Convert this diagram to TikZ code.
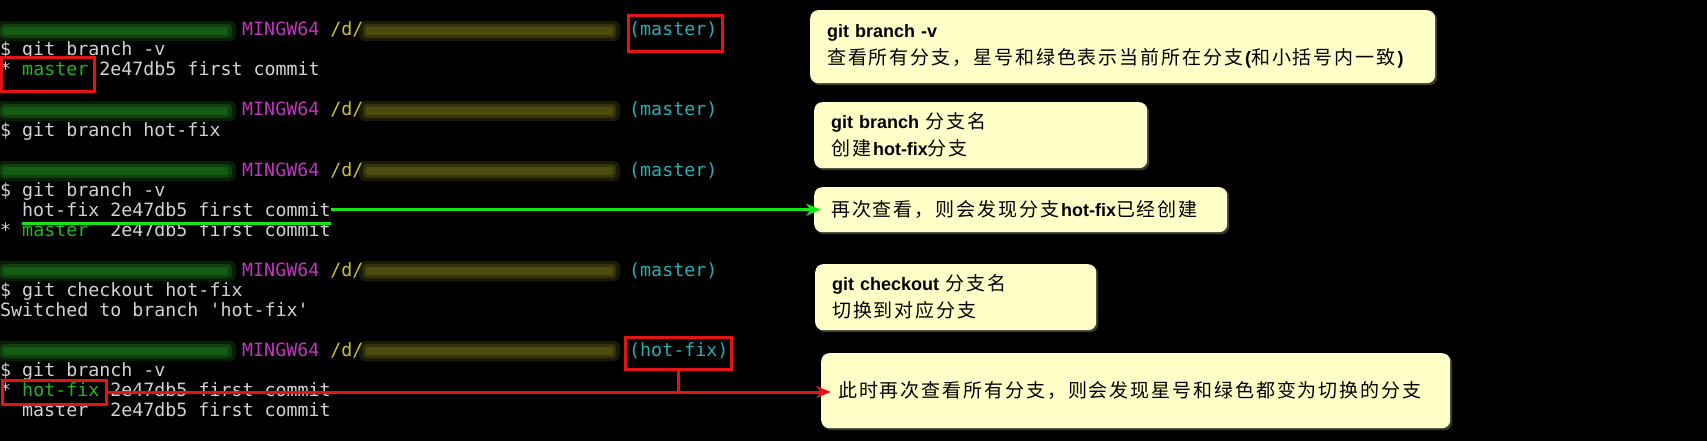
\documentclass[tikz,border=0pt]{standalone}
\usepackage{fontspec}
\setmainfont{Liberation Sans}
\setmonofont{DejaVu Sans Mono}
\newfontfamily\zhfont[LetterSpace=10]{Noto Sans CJK SC}
\usetikzlibrary{arrows.meta,shadows}

\definecolor{termwhite}{RGB}{210,210,210}
\definecolor{termgreen}{RGB}{35,180,35}
\definecolor{mingw}{RGB}{190,55,190}
\definecolor{pathyellow}{RGB}{195,195,50}
\definecolor{branchcyan}{RGB}{40,175,175}
\definecolor{blurgreen}{RGB}{30,125,30}
\definecolor{bluryellow}{RGB}{105,105,25}
\definecolor{markred}{RGB}{228,20,20}
\definecolor{arrowgreen}{RGB}{20,230,20}
\definecolor{noteyellow}{RGB}{255,255,200}

\newcommand\zh[1]{{\zhfont #1}}
\def\promptblur(#1){%
  \fill[blurgreen, opacity=.25, rounded corners=6pt] (-4,#1-10) rectangle (236,#1+10);
  \fill[blurgreen, opacity=.35, rounded corners=4pt] (0,#1-7) rectangle (232,#1+7);
  \fill[blurgreen, opacity=.45, rounded corners=2pt] (3,#1-4) rectangle (228,#1+4);
  \fill[bluryellow, opacity=.25, rounded corners=6pt] (359,#1-10) rectangle (620,#1+10);
  \fill[bluryellow, opacity=.35, rounded corners=4pt] (363,#1-7) rectangle (616,#1+7);
  \fill[bluryellow, opacity=.45, rounded corners=2pt] (366,#1-4) rectangle (613,#1+4);}

\tikzset{
  term/.style={anchor=base west, inner sep=0pt, text=termwhite, font=\ttfamily\fontsize{18.3}{20}\selectfont},
  redbox/.style={draw=markred, line width=3pt, inner sep=0pt},
  note/.style={anchor=north west, fill=noteyellow, rounded corners=8pt, align=left, inner xsep=17pt, inner ysep=3pt,
    text=black, font=\fontsize{18}{27}\selectfont,
    drop shadow={shadow xshift=2pt, shadow yshift=-2pt, fill=noteyellow!30!black, opacity=.8}},
  grnarrow/.style={draw=arrowgreen, line width=3pt, -{Stealth[length=15pt,width=12pt]}, shorten >=-7pt},
  grnline/.style={draw=arrowgreen, line width=3pt},
  redarrow/.style={draw=markred, line width=3pt, -{Stealth[length=15pt,width=12pt]}, shorten >=-10pt},
  redline/.style={draw=markred, line width=3pt}
}

\begin{document}
\begin{tikzpicture}[x=1pt,y=-1pt]
			%%%%% TERMINAL %%%%%
			
			\fill[black] (0,0) rectangle (1707,441);
			\useasboundingbox (0,0) rectangle (1707,441);
			
			% git branch -v
			\promptblur(31)
			\node[term] (p0) at (242,36) {{\color{mingw}MINGW64} {\color{pathyellow}/d/}};
			\node[term, text=branchcyan] (b0) at (629,36) {(master)};
			\node[term] (c1) at (0,56) {\$ git branch -v};
			\node[term] (c2) at (0,76) {* {\color{termgreen}master} 2e47db5 first commit};
			
			% git branch hot-fix
			\promptblur(111)
			\node[term] (p4) at (242,116) {{\color{mingw}MINGW64} {\color{pathyellow}/d/}};
			\node[term, text=branchcyan] (b4) at (629,116) {(master)};
			\node[term] (c5) at (0,136) {\$ git branch hot-fix};
			
			% git branch -v
			\promptblur(171)
			\node[term] (p7) at (242,176) {{\color{mingw}MINGW64} {\color{pathyellow}/d/}};
			\node[term, text=branchcyan] (b7) at (629,176) {(master)};
			\node[term] (c8) at (0,196) {\$ git branch -v};
			\node[term] (hf) at (22,216) {hot-fix 2e47db5 first commit};
			\node[term] (c10) at (0,236) {* {\color{termgreen}master}\ \ 2e47db5 first commit};
			
			% git checkout hot-fix
			\promptblur(271)
			\node[term] (p12) at (242,276) {{\color{mingw}MINGW64} {\color{pathyellow}/d/}};
			\node[term, text=branchcyan] (b12) at (629,276) {(master)};
			\node[term] (c13) at (0,296) {\$ git checkout hot-fix};
			\node[term] (c14) at (0,316) {Switched to branch 'hot-fix'};
			
			% git branch -v
			\promptblur(351)
			\node[term] (p16) at (242,356) {{\color{mingw}MINGW64} {\color{pathyellow}/d/}};
			\node[term, text=branchcyan] (b16) at (629,356) {(hot-fix)};
			\node[term] (c17) at (0,376) {\$ git branch -v};
			\node[term] (c18) at (0,396) {* {\color{termgreen}hot-fix} 2e47db5 first commit};
			\node[term] (c19) at (22,416) {master\ \ 2e47db5 first commit};
			
			%%%%% MARKS %%%%%
			
			\node[redbox, minimum width=94pt, minimum height=36pt] (masterbox) at (675,34) {};
			\node[redbox, minimum width=93pt, minimum height=34pt] (starbox) at (48,75) {};
			\node[redbox, minimum width=106pt, minimum height=32pt] (headbox) at (678,353) {};
			\node[redbox, minimum width=104pt, minimum height=24pt] (hfbox) at (54,392) {};
			
			%%%%% NOTES %%%%%
			
			\node[note, text width=591pt, minimum height=73pt] (noteA) at (810,10)
				{\textbf{git branch -v}\\\zh{\fontsize{19}{27}\selectfont 查看所有分支，星号和绿色表示当前所在分支}\textbf{(}\zh{\fontsize{19}{27}\selectfont 和小括号内一致}\textbf{)}};
			\node[note, text width=299pt, minimum height=66pt] (noteB) at (814,102)
				{\textbf{git branch} \zh{\fontsize{19}{27}\selectfont 分支名}\\\zh{\fontsize{19}{27}\selectfont 创建}\textbf{hot-fix}\zh{\fontsize{19}{27}\selectfont 分支}};
			\node[note, text width=379pt, minimum height=45pt] (noteC) at (814,187)
				{\zh{\fontsize{19}{27}\selectfont 再次查看，则会发现分支}\textbf{hot-fix}\zh{\fontsize{19}{27}\selectfont 已经创建}};
			\node[note, text width=247pt, minimum height=66pt] (noteD) at (815,264)
				{\textbf{git checkout} \zh{\fontsize{19}{27}\selectfont 分支名}\\\zh{\fontsize{19}{27}\selectfont 切换到对应分支}};
			\node[note, text width=595pt, minimum height=75pt] (noteE) at (821,353)
				{\zh{\fontsize{19}{27}\selectfont 此时再次查看所有分支，则会发现星号和绿色都变为切换的分支}};
			
			%%%%% ARROWS %%%%%
			
			\draw[grnline] ([yshift=-7pt]hf.base west) -- ([yshift=-7pt]hf.base east);
			\draw[grnarrow] (hf.east |- noteC.west) -- (noteC.west);
			\draw[redline] (headbox.south) -- (headbox.south |- hfbox.east);
			\draw[redarrow] (hfbox.east) -- (hfbox.east -| noteE.west);
			
			%%%%% END %%%%%
\end{tikzpicture}
\end{document}
